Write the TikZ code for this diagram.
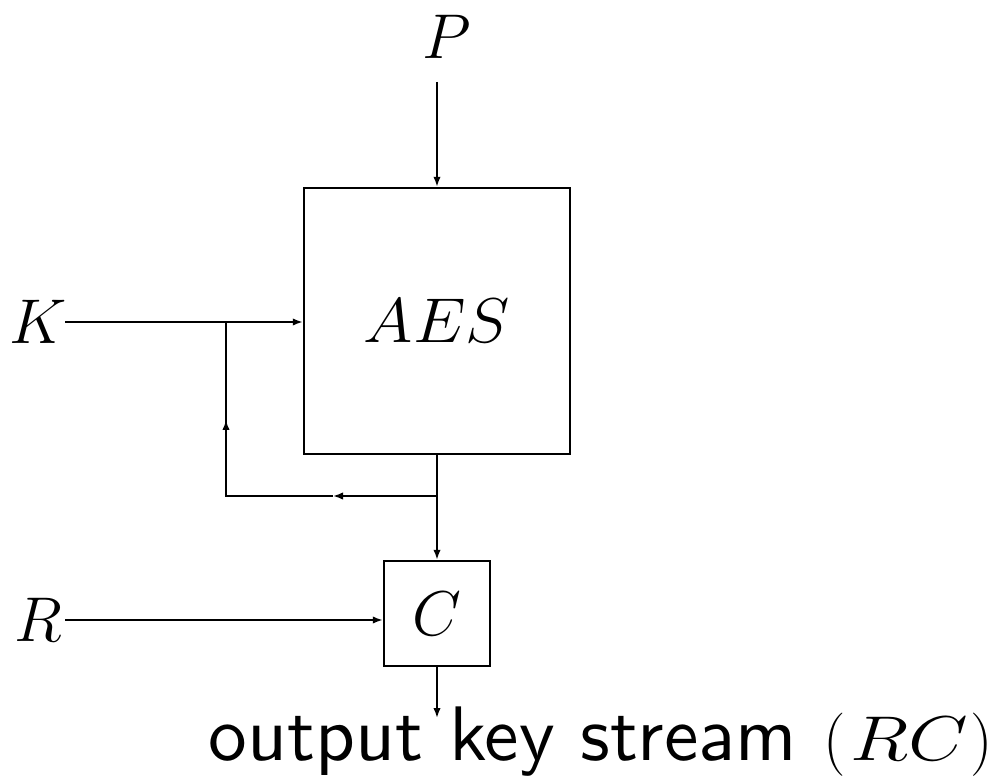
\documentclass[tikz,border=0pt]{standalone}
\usepackage{fix-cm}
\usepackage{graphicx}
\usepackage{fontspec}
\newfontfamily\outsans{lmsans10-regular}[Extension=.otf]
\usetikzlibrary{arrows.meta}
\begin{document}
\begin{tikzpicture}[x=0.02cm,y=-0.02cm,
  line width=1.1pt,
  tip/.style={-{Latex[length=2mm,width=1.5mm]}},
  mathfont/.style={font=\fontsize{36}{40}\selectfont},
  lbl/.style={inner sep=0pt,mathfont},
  blk/.style={draw,line width=1.4pt,inner sep=0pt,mathfont}]
\useasboundingbox (0,0) rectangle (999,776);
% blocks
\node[blk,minimum width=266*0.02cm,minimum height=266*0.02cm] (aes) at (437,321) {\scalebox{1.06}[1]{$AES$}};
\node[blk,minimum width=106*0.02cm,minimum height=105*0.02cm] (c) at (437,613.5) {$C$};
% labels
\node[lbl] (p) at (447,37) {$P$};
\node[lbl] (k) at (38,322) {$K$};
\node[lbl] (r) at (38,620) {$R$};
\node[lbl,anchor=base west] (out) at (208,760) {{\outsans\fontsize{44}{48}\selectfont output key stream }$($\hspace{3pt}\scalebox{1.22}[1]{$RC$}\hspace{1pt}$)$};
% coordinates
\coordinate (ptop) at (437,82);
\coordinate (kstart) at (65,322);
\coordinate (kj) at (226,322);
\coordinate (fbmid) at (226,420);
\coordinate (fbcorner) at (226,496);
\coordinate (fbj) at (437,496);
\coordinate (hmid) at (333,496);
\coordinate (rstart) at (65,620);
\coordinate (oend) at (437,718);
% connectors
\draw[tip] (ptop) -- (aes.north);
\draw[tip] (kstart) -- (aes.west |- kstart);
\draw[tip] (aes.south) -- (c.north);
\draw[tip] (fbj) -- (hmid);
\draw (hmid) -- (fbcorner) -- (fbmid);
\draw[tip] (fbcorner) -- (fbmid);
\draw (fbmid) -- (kj);
\draw[tip] (rstart) -- (c.west |- rstart);
\draw[tip] (c.south) -- (oend);
\end{tikzpicture}
\end{document}
